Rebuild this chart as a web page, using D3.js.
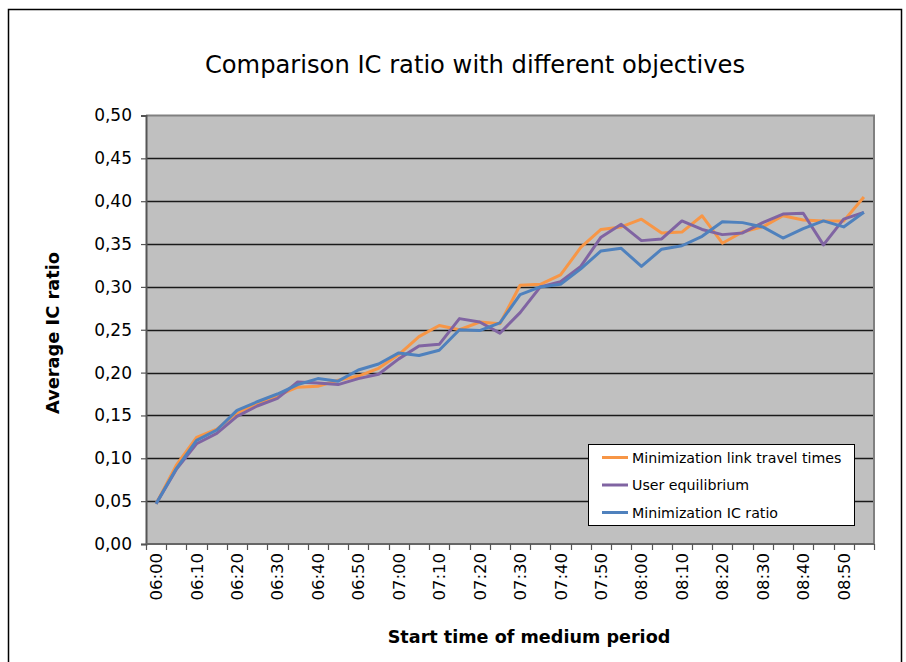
<!DOCTYPE html>
<html>
<head>
<meta charset="utf-8">
<script src="https://cdn.jsdelivr.net/npm/d3@7/dist/d3.min.js"></script>
<style>
  html, body { margin: 0; padding: 0; background: #fff; }
  svg { display: block; }
  text { font-family: "DejaVu Sans", Verdana, sans-serif; fill: #000; }
</style>
</head>
<body>
<svg id="chart" width="906" height="662"></svg>
<script>
// Start times of the medium period, every 5 minutes
const times = [
  "06:00","06:05","06:10","06:15","06:20","06:25","06:30","06:35","06:40","06:45",
  "06:50","06:55","07:00","07:05","07:10","07:15","07:20","07:25","07:30","07:35",
  "07:40","07:45","07:50","07:55","08:00","08:05","08:10","08:15","08:20","08:25",
  "08:30","08:35","08:40","08:45","08:50","08:55"
];
// Labels written under the axis (every other start time)
const tickLabels = [
  "06:00","06:10","06:20","06:30","06:40","06:50","07:00","07:10","07:20",
  "07:30","07:40","07:50","08:00","08:10","08:20","08:30","08:40","08:50"
];
const yTicks = [0, 0.05, 0.10, 0.15, 0.20, 0.25, 0.30, 0.35, 0.40, 0.45, 0.50];

const minLinkTravelTimes = [
  0.047, 0.092, 0.1245, 0.134, 0.153, 0.164, 0.173, 0.183, 0.184, 0.191,
  0.196, 0.205, 0.221, 0.242, 0.255, 0.250, 0.259, 0.257, 0.302, 0.303,
  0.314, 0.346, 0.367, 0.370, 0.379, 0.363, 0.364, 0.383, 0.351, 0.364,
  0.370, 0.383, 0.378, 0.377, 0.377, 0.405
];
const userEquilibrium = [
  0.047, 0.087, 0.117, 0.129, 0.149, 0.161, 0.170, 0.189, 0.188, 0.186,
  0.193, 0.198, 0.216, 0.231, 0.233, 0.263, 0.259, 0.246, 0.270, 0.300,
  0.306, 0.324, 0.358, 0.373, 0.354, 0.356, 0.377, 0.367, 0.361, 0.363,
  0.375, 0.385, 0.386, 0.349, 0.379, 0.387
];
const minICRatio = [
  0.047, 0.088, 0.121, 0.133, 0.156, 0.166, 0.175, 0.186, 0.193, 0.190,
  0.203, 0.210, 0.223, 0.220, 0.226, 0.250, 0.249, 0.258, 0.291, 0.300,
  0.303, 0.321, 0.342, 0.345, 0.324, 0.344, 0.348, 0.359, 0.376, 0.375,
  0.370, 0.357, 0.368, 0.377, 0.370, 0.387
];

const seriesNames = ["Minimization link travel times", "User equilibrium", "Minimization IC ratio"];
const seriesColors = ["#f79646", "#8064a2", "#4f81bd"];
const seriesValues = [minLinkTravelTimes, userEquilibrium, minICRatio];

const svg = d3.select("#chart");

// Outer chart frame
svg.append("rect")
  .attr("x", 8.5).attr("y", 9.5)
  .attr("width", 893).attr("height", 700)
  .attr("fill", "#fff").attr("stroke", "#000").attr("stroke-width", 1.5);

const plot = { left: 146, right: 874, top: 115.5, bottom: 544 };

const x = d3.scaleBand().domain(times).range([plot.left, plot.right]).padding(0);
const y = d3.scaleLinear().domain([0, 0.5]).range([plot.bottom, plot.top]);

// Plot area background
svg.append("rect")
  .attr("x", plot.left).attr("y", plot.top)
  .attr("width", plot.right - plot.left).attr("height", plot.bottom - plot.top)
  .attr("fill", "#c0c0c0");

// Horizontal gridlines
svg.append("g")
  .selectAll("line")
  .data(yTicks.filter(d => d > 0 && d < 0.5))
  .join("line")
  .attr("x1", plot.left).attr("x2", plot.right)
  .attr("y1", d => Math.round(y(d)) + 0.5).attr("y2", d => Math.round(y(d)) + 0.5)
  .attr("stroke", "#1a1a1a").attr("stroke-width", 1.3);

// Plot frame (top and right)
svg.append("path")
  .attr("d", `M${plot.left},${plot.top}H${plot.right}V${plot.bottom}`)
  .attr("fill", "none").attr("stroke", "#808080").attr("stroke-width", 2);

// Y axis
const yAxis = d3.axisLeft(y)
  .tickValues(yTicks)
  .tickSize(5)
  .tickPadding(9)
  .tickFormat(d => d3.format(".2f")(d).replace(".", ","));
const gy = svg.append("g")
  .attr("transform", `translate(${plot.left},0)`)
  .call(yAxis);
gy.select(".domain").attr("stroke", "#555").attr("stroke-width", 2);
gy.selectAll(".tick line").attr("stroke", "#555").attr("stroke-width", 1.2);
gy.selectAll(".tick text")
  .style("font-family", "'DejaVu Sans', Verdana, sans-serif")
  .style("font-size", "17px").attr("fill", "#000");

// X axis: ticks on category boundaries, labels on every other category
const boundaries = times.map(t => x(t)).concat([plot.right]);
const gx = svg.append("g");
gx.append("line")
  .attr("x1", plot.left).attr("x2", plot.right)
  .attr("y1", plot.bottom).attr("y2", plot.bottom)
  .attr("stroke", "#666").attr("stroke-width", 2);
gx.selectAll("line.tk")
  .data(boundaries)
  .join("line").attr("class", "tk")
  .attr("x1", d => Math.round(d) + 0.5).attr("x2", d => Math.round(d) + 0.5)
  .attr("y1", plot.bottom).attr("y2", plot.bottom + 6)
  .attr("stroke", "#555").attr("stroke-width", 1.2);
gx.selectAll("text")
  .data(tickLabels)
  .join("text")
  .attr("transform", d => `translate(${x(d) + x.bandwidth() / 2 + 6},${plot.bottom + 9}) rotate(-90)`)
  .attr("text-anchor", "end")
  .style("font-size", "16.5px")
  .text(d => d);

// Series lines
const line = d3.line()
  .x((d, i) => x(times[i]) + x.bandwidth() / 2)
  .y(d => y(d));
svg.append("g")
  .selectAll("path")
  .data(seriesValues)
  .join("path")
  .attr("d", d => line(d))
  .attr("fill", "none")
  .attr("stroke", (d, i) => seriesColors[i])
  .attr("stroke-width", 3)
  .attr("stroke-linejoin", "round");

// Title and axis titles
svg.append("text")
  .attr("x", 475).attr("y", 73)
  .attr("text-anchor", "middle")
  .style("font-size", "24.2px")
  .text("Comparison IC ratio with different objectives");

svg.append("text")
  .attr("x", 529).attr("y", 643)
  .attr("text-anchor", "middle")
  .style("font-size", "17.6px").style("font-weight", "bold")
  .text("Start time of medium period");

svg.append("text")
  .attr("transform", "translate(59,333) rotate(-90)")
  .attr("text-anchor", "middle")
  .style("font-size", "17.8px").style("font-weight", "bold")
  .text("Average IC ratio");

// Legend
const legend = svg.append("g");
legend.append("rect")
  .attr("x", 588.5).attr("y", 444.5)
  .attr("width", 266).attr("height", 81)
  .attr("fill", "#fff").attr("stroke", "#000").attr("stroke-width", 1);
const rows = [457.5, 485, 512.5];
seriesNames.forEach((name, i) => {
  legend.append("line")
    .attr("x1", 602).attr("x2", 628)
    .attr("y1", rows[i]).attr("y2", rows[i])
    .attr("stroke", seriesColors[i]).attr("stroke-width", 3);
  legend.append("text")
    .attr("x", 632).attr("y", rows[i] + 5)
    .style("font-size", "14.2px")
    .text(name);
});
</script>
</body>
</html>
